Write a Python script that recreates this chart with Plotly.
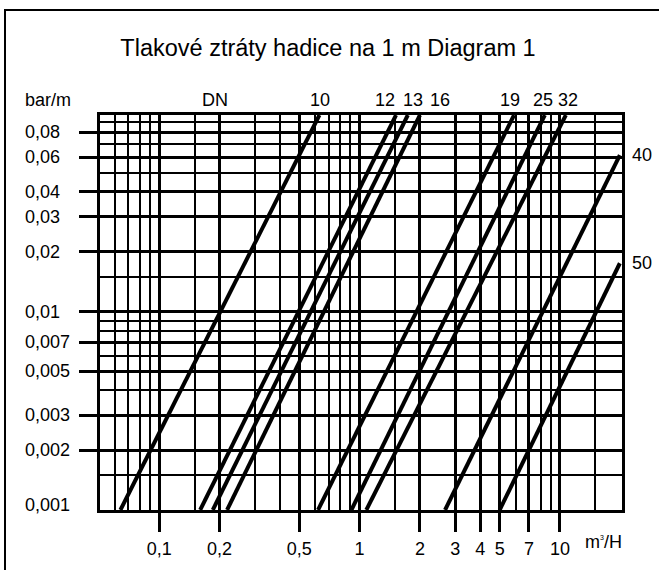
import math
import plotly.graph_objects as go

# ---------------- data ----------------
dn_labels = ["10", "12", "13", "16", "19", "25", "32", "40", "50"]
# flow (m3/H) and pressure loss (bar/m) at both ends of each DN line
flow_start = [0.064, 0.16, 0.185, 0.218, 0.62, 0.91, 1.08, 2.67, 5.0]
loss_start = [0.001, 0.001, 0.001, 0.001, 0.001, 0.001, 0.001, 0.001, 0.001]
flow_end = [0.63, 1.52, 1.74, 2.0, 5.9, 8.4, 10.7, 19.9, 19.9]
loss_end = [0.0977, 0.0977, 0.0977, 0.0977, 0.0977, 0.0977, 0.0977, 0.0614, 0.0175]

x_tick_vals = [0.1, 0.2, 0.5, 1, 2, 3, 4, 5, 7, 10]
x_tick_text = ["0,1", "0,2", "0,5", "1", "2", "3", "4", "5", "7", "10"]
x_grid_vals = [0.06, 0.07, 0.08, 0.09, 0.15, 0.3, 0.4, 0.6, 0.7, 0.8, 0.9, 1.5, 6, 8, 9, 15]

y_tick_vals = [0.002, 0.003, 0.005, 0.007, 0.01, 0.02, 0.03, 0.04, 0.06, 0.08]
y_tick_text = ["0,002", "0,003", "0,005", "0,007", "0,01", "0,02", "0,03", "0,04", "0,06", "0,08"]
y_base_val = 0.001
y_base_text = "0,001"
y_grid_vals = [0.0015, 0.004, 0.006, 0.008, 0.009, 0.015, 0.05, 0.07, 0.09]

x_min, x_max = 0.0506, 20.4
y_min, y_max = 0.001, 0.0977

title_text = "Tlakové ztráty hadice na 1 m Diagram 1"
y_unit = "bar/m"
x_unit = "m<sup><span style='font-size:7px'>3</span></sup>/H"
dn_head = "DN"

# ---------------- layout helpers ----------------
W, H = 659, 570
L, R, T, B = 100, 37, 115, 60
pw, ph = W - L - R, H - T - B


def px_x(p):
    return (p - L) / pw


def px_y(p):
    return (H - B - p) / ph


FONT = "Liberation Sans, Arial, Helvetica, sans-serif"

fig = go.Figure()
for i, lab in enumerate(dn_labels):
    fig.add_trace(go.Scatter(
        x=[flow_start[i], flow_end[i]],
        y=[loss_start[i], loss_end[i]],
        mode="lines",
        line=dict(color="black", width=4),
        name="DN " + lab,
        showlegend=False,
        hoverinfo="skip",
    ))

ann = []
# y tick labels (left aligned)
for v, t in zip([y_base_val] + y_tick_vals, [y_base_text] + y_tick_text):
    ann.append(dict(x=px_x(23), xref="paper", y=math.log10(v), yref="y",
                    text=t, showarrow=False, xanchor="left", yanchor="middle",
                    yshift=5 if v == y_base_val else 0,
                    font=dict(size=18, color="black", family=FONT)))

# top labels
ann.append(dict(x=px_x(23), xref="paper", y=px_y(100), yref="paper", text=y_unit,
                showarrow=False, xanchor="left", yanchor="middle",
                font=dict(size=18, color="black", family=FONT)))
ann.append(dict(x=px_x(215), xref="paper", y=px_y(100), yref="paper", text=dn_head,
                showarrow=False, xanchor="center", yanchor="middle",
                font=dict(size=18, color="black", family=FONT)))
top_shift = [1, -11, 5, 20, -4, -2, 2]
for i in range(7):
    ann.append(dict(x=math.log10(flow_end[i]), xref="x", y=px_y(100), yref="paper",
                    text=dn_labels[i], showarrow=False, xanchor="center", yanchor="middle",
                    xshift=top_shift[i],
                    font=dict(size=18, color="black", family=FONT)))
for i in range(7, 9):
    ann.append(dict(x=px_x(630), xref="paper", y=math.log10(loss_end[i]), yref="y",
                    text=dn_labels[i], showarrow=False, xanchor="left", yanchor="middle",
                    font=dict(size=18, color="black", family=FONT)))
# x unit
ann.append(dict(x=px_x(603), xref="paper", y=px_y(542), yref="paper", text=x_unit,
                showarrow=False, xanchor="center", yanchor="middle",
                font=dict(size=18, color="black", family=FONT)))

fig.update_layout(
    width=W, height=H,
    margin=dict(l=L, r=R, t=T, b=B),
    paper_bgcolor="white", plot_bgcolor="white",
    title=dict(text=title_text, x=328 / W, xanchor="center", y=1 - 48 / H, yanchor="middle",
               font=dict(size=23.5, color="black", family=FONT)),
    annotations=ann,
    shapes=[dict(type="rect", xref="paper", yref="paper",
                 x0=px_x(5), x1=px_x(670), y0=px_y(580), y1=px_y(10),
                 line=dict(color="black", width=2), fillcolor="rgba(0,0,0,0)")],
    showlegend=False,
)

fig.update_xaxes(
    type="log", range=[math.log10(x_min), math.log10(x_max)],
    tickmode="array", tickvals=x_tick_vals, ticktext=x_tick_text,
    ticks="outside", ticklen=19, tickwidth=3, tickcolor="black",
    ticklabelstandoff=2,
    tickfont=dict(size=18, color="black", family=FONT),
    showgrid=True, gridcolor="black", gridwidth=2.6,
    minor=dict(tickmode="array", tickvals=x_grid_vals, showgrid=True,
               gridcolor="black", gridwidth=2.2, ticks=""),
    showline=True, linecolor="black", linewidth=2.5, mirror=True,
    zeroline=False,
)
fig.update_yaxes(
    type="log", range=[math.log10(y_min), math.log10(y_max)],
    tickmode="array", tickvals=y_tick_vals,
    ticks="outside", ticklen=18, tickwidth=3, tickcolor="black",
    showticklabels=False,
    showgrid=True, gridcolor="black", gridwidth=2.6,
    minor=dict(tickmode="array", tickvals=y_grid_vals, showgrid=True,
               gridcolor="black", gridwidth=2.2, ticks=""),
    showline=True, linecolor="black", linewidth=2.5, mirror=True,
    zeroline=False,
)

fig.write_html("out.html", config={"displayModeBar": False},
               post_script="document.body.style.margin='0';document.body.style.overflow='hidden';")
